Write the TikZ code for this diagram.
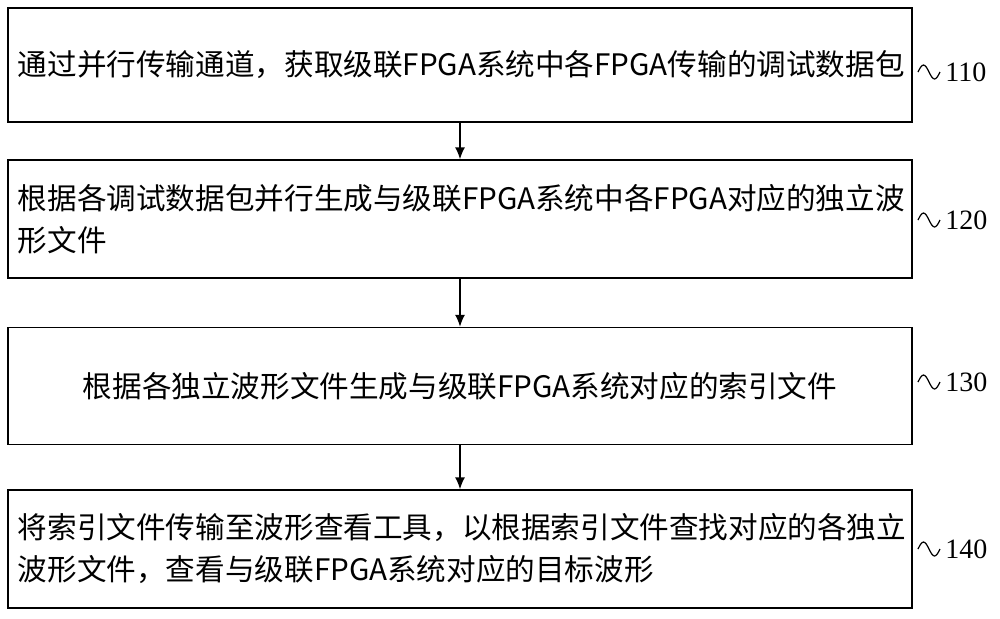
\documentclass[tikz,border=0pt]{standalone}
\usepackage{fontspec}
\setmainfont{Noto Sans CJK SC}
\newfontfamily\numfont{Liberation Serif}
\usetikzlibrary{positioning, arrows.meta}
\tikzset{
  stepbox/.style={draw, line width=0.7pt, minimum width=452pt, inner xsep=5pt, inner ysep=0pt,
    font=\fontsize{14.8pt}{21pt}\selectfont, text width=442pt},
  steplabel/.style={font=\numfont\fontsize{14pt}{16pt}\selectfont, anchor=west, inner sep=0pt},
  flow/.style={-{Latex[length=6pt, width=5pt]}, line width=0.7pt}
}
\begin{document}
\begin{tikzpicture}[x=0.5pt, y=-0.5pt]
  \useasboundingbox (0,0) rectangle (1000,618);
  \node[stepbox, minimum height=57pt] (s110) at (460,65)
    {通过并行传输通道，获取级联FPGA系统中各FPGA传输的调试数据包};
  \node[stepbox, minimum height=59pt] (s120) at (460,219)
    {根据各调试数据包并行生成与级联FPGA系统中各FPGA对应的独立波\\形文件};
  \node[stepbox, minimum height=58.5pt, align=center] (s130) at (460,386)
    {根据各独立波形文件生成与级联FPGA系统对应的索引文件};
  \node[stepbox, minimum height=59pt] (s140) at (460,549)
    {将索引文件传输至波形查看工具，以根据索引文件查找对应的各独立\\波形文件，查看与级联FPGA系统对应的目标波形};

  \draw[flow] (s110) -- (s120);
  \draw[flow] (s120) -- (s130);
  \draw[flow] (s130) -- (s140);

  % step numbers
  \foreach \s/\y in {110/72, 120/220, 130/382, 140/549} {
    \coordinate (w\s) at (918,\y);
    \draw[line width=0.6pt] (w\s) sin (923.5,\y-7) cos (929,\y) sin (934.5,\y+7) cos (940,\y);
    \node[steplabel] (n\s) at (945,\y) {\s};
  }
\end{tikzpicture}
\end{document}
